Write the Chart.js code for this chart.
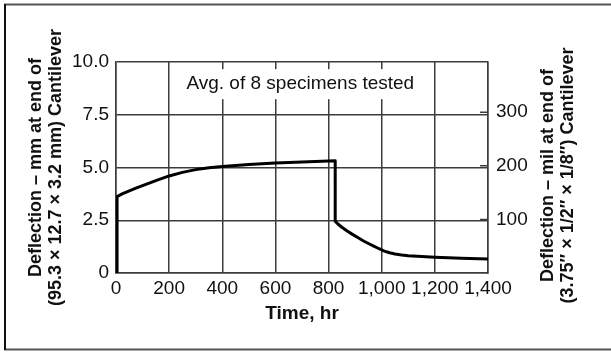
<!DOCTYPE html>
<html lang="en">
	<head>
		<meta charset="UTF-8" />
		<title>Cantilever deflection vs time</title>
		<style>
			html, body { margin: 0; padding: 0; background: #fff; }
			#wrap { position: relative; width: 611px; height: 352px; }
		</style>
	</head>
	<body>
		<div id="wrap"><canvas id="myChart" width="611" height="352"></canvas></div>

		<script src="https://cdn.jsdelivr.net/npm/chart.js@4.4.0/dist/chart.umd.min.js"></script>
		<script>
			// time (hr) and deflection (mm)
			var timeHr = [4, 4, 25, 50, 75, 100, 150, 200, 250, 300, 350, 400, 500, 600, 700, 800, 825,
				825, 835, 850, 870, 890, 910, 930, 950, 970, 990, 1010, 1030, 1050, 1075, 1100, 1150, 1200, 1300, 1400];
			var deflectionMm = [0, 3.62, 3.76, 3.89, 4.02, 4.14, 4.38, 4.6, 4.77, 4.9, 4.99, 5.05, 5.14, 5.21, 5.26, 5.31, 5.32,
				2.45, 2.32, 2.17, 1.99, 1.83, 1.68, 1.53, 1.4, 1.27, 1.15, 1.04, 0.96, 0.9, 0.85, 0.82, 0.78, 0.75, 0.7, 0.66];

			var xTicks = [0, 200, 400, 600, 800, 1000, 1200, 1400];
			var xTickLabels = ["0", "200", "400", "600", "800", "1,000", "1,200", "1,400"];
			var yTicks = [0, 2.5, 5, 7.5, 10];
			var yTickLabels = ["0", "2.5", "5.0", "7.5", "10.0"];
			var milTicks = [100, 200, 300];
			var milTickLabels = ["100", "200", "300"];

			var MM_PER_MIL = 0.0254;
			var note = "Avg. of 8 specimens tested";

			var points = timeHr.map(function (t, i) {
				return { x: t, y: deflectionMm[i] };
			});

			var FONT = "'Liberation Sans', Arial, sans-serif";
			var GRID = "#3c3c3c";

			function setTicks(values) {
				return function (scale) {
					scale.ticks = values.map(function (v) { return { value: v }; });
				};
			}
			function labelFrom(values, labels) {
				return function (v) {
					var i = values.indexOf(v);
					return i >= 0 ? labels[i] : "";
				};
			}

			// frame, note box, right-hand tick marks and right axis title
			var extras = {
				id: "extras",
				beforeDraw: function (chart) {
					var ctx = chart.ctx;
					ctx.save();
					ctx.lineWidth = 2;
					ctx.strokeStyle = "#555";
					ctx.beginPath();
					ctx.moveTo(4, 4.5); ctx.lineTo(611, 4.5);
					ctx.moveTo(4, 349.5); ctx.lineTo(611, 349.5);
					ctx.stroke();
					ctx.strokeStyle = "#111";
					ctx.beginPath();
					ctx.moveTo(5, 4); ctx.lineTo(5, 350);
					ctx.stroke();
					ctx.restore();
				},
				beforeDatasetsDraw: function (chart) {
					var ctx = chart.ctx;
					var xs = chart.scales.x, ys = chart.scales.y, ms = chart.scales.y2;
					var area = chart.chartArea;
					ctx.save();
					ctx.font = "19px " + FONT;
					var tx = xs.getPixelForValue(265);
					var ty = ys.getPixelForValue(8.95);
					var w = ctx.measureText(note).width;
					ctx.fillStyle = "#fff";
					ctx.fillRect(tx - 7, ty - 15, w + 14, 30);
					ctx.fillStyle = "#111";
					ctx.textBaseline = "middle";
					ctx.fillText(note, tx, ty);

					ctx.strokeStyle = GRID;
					ctx.lineWidth = 1.5;
					ctx.beginPath();
					milTicks.forEach(function (v) {
						var py = ms.getPixelForValue(v);
						ctx.moveTo(area.right - 8, py);
						ctx.lineTo(area.right, py);
					});
					ctx.stroke();

					ctx.font = "bold 18px " + FONT;
					ctx.textAlign = "center";
					ctx.textBaseline = "middle";
					var cy = (area.top + area.bottom) / 2 + 8;
					ctx.translate(area.right + 60, cy);
					ctx.rotate(-Math.PI / 2);
					ctx.fillText("Deflection \u2013 mil at end of", 0, 0);
					ctx.fillText("(3.75\u2033 \u00d7 1/2\u2033 \u00d7 1/8\u2033) Cantilever", 0, 20);
					ctx.restore();
				},
			};

			var ctx = document.getElementById("myChart").getContext("2d");
			var chart = new Chart(ctx, {
				type: "line",
				data: {
					datasets: [
						{
							data: points,
							borderColor: "#000",
							borderWidth: 3,
							borderJoinStyle: "round",
							pointRadius: 0,
							tension: 0,
							fill: false,
						},
					],
				},
				options: {
					responsive: false,
					animation: false,
					events: [],
					layout: { padding: { top: 62, left: 0, right: 0, bottom: 0 } },
					plugins: { legend: { display: false }, tooltip: { enabled: false } },
					scales: {
						x: {
							type: "linear",
							min: 0,
							max: 1400,
							afterBuildTicks: setTicks(xTicks),
							afterFit: function (s) { s.height = 79; },
							grid: { color: GRID, lineWidth: 1.5, drawTicks: false },
							border: { color: GRID, width: 1.5 },
							ticks: {
								padding: 4,
								maxRotation: 0,
								autoSkip: false,
								color: "#111",
								font: { family: FONT, size: 19 },
								callback: labelFrom(xTicks, xTickLabels),
							},
							title: {
								display: true,
								text: "Time, hr",
								color: "#111",
								font: { family: FONT, size: 19, weight: "bold", lineHeight: 1.2 },
								padding: { top: 0, bottom: 27 },
							},
						},
						y: {
							type: "linear",
							position: "left",
							min: 0,
							max: 10,
							afterBuildTicks: setTicks(yTicks),
							afterFit: function (s) { s.width = 116; },
							grid: { color: GRID, lineWidth: 1.5, drawTicks: false },
							border: { color: GRID, width: 1.5 },
							ticks: {
								padding: 7,
								color: "#111",
								font: { family: FONT, size: 19 },
								callback: labelFrom(yTicks, yTickLabels),
							},
							title: {
								display: true,
								text: ["Deflection \u2013 mm at end of", "(95.3 \u00d7 12.7 \u00d7 3.2 mm) Cantilever"],
								color: "#111",
								font: { family: FONT, size: 18, weight: "bold", lineHeight: 1.111 },
								padding: { top: 26, bottom: 0 },
							},
						},
						y2: {
							type: "linear",
							position: "right",
							min: 0,
							max: 10 / MM_PER_MIL,
							afterBuildTicks: setTicks(milTicks),
							afterFit: function (s) { s.width = 123; },
							grid: { drawOnChartArea: false, drawTicks: false },
							border: { color: GRID, width: 1.5 },
							ticks: {
								padding: 8,
								color: "#111",
								font: { family: FONT, size: 19 },
								callback: labelFrom(milTicks, milTickLabels),
							},
						},
					},
				},
				plugins: [extras],
			});
		</script>
	</body>
</html>
